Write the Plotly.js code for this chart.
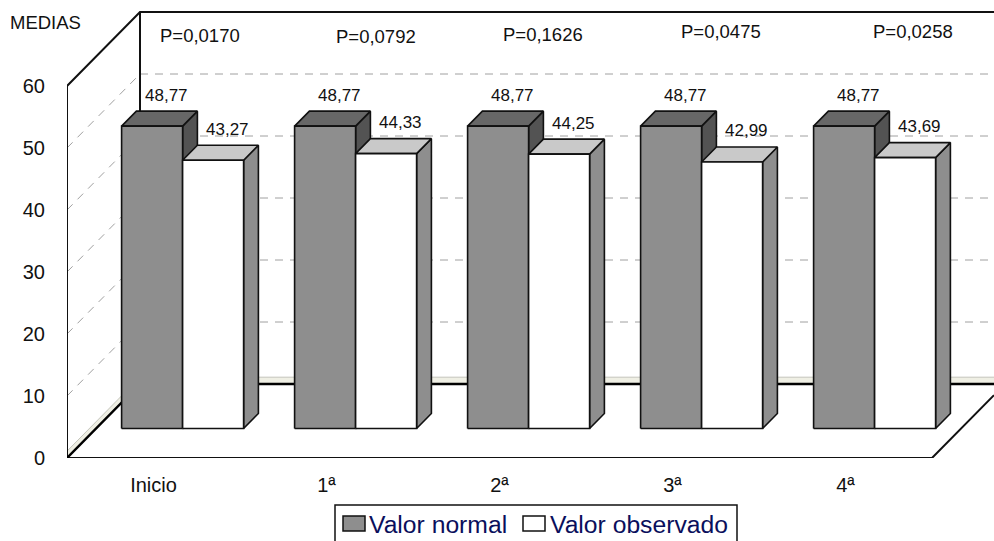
<!DOCTYPE html>
<html>
<head>
<meta charset="utf-8">
<script src="https://cdn.plot.ly/plotly-3.0.1.min.js"></script>
<style>html,body{margin:0;padding:0;background:#fff;overflow:hidden}</style>
</head>
<body>
<div id="chart" style="width:994px;height:541px"></div>
<script>
// ---- data ----
const categories = ['Inicio', '1ª', '2ª', '3ª', '4ª'];
const valorNormal = [48.77, 48.77, 48.77, 48.77, 48.77];
const valorObservado = [43.27, 44.33, 44.25, 42.99, 43.69];
const pValues = ['P=0,0170', 'P=0,0792', 'P=0,1626', 'P=0,0475', 'P=0,0258'];
const yTicks = [0, 10, 20, 30, 40, 50, 60];
const gridValues = [10, 20, 30, 40, 50];
const seriesNames = ['Valor normal', 'Valor observado'];

// ---- geometry of the oblique projection ----
const W = 994, H = 541, PL = 67, PB = 458;   // plot origin in pixels
const UX = 173, UY = 6.2, DEPTHX = 73, DEPTHY = 74;
const dx = d => d * DEPTHX / UX, dy = d => d * DEPTHY / UY;
const pt = (c, v, d) => [c + dx(d), v + dy(d)];
const pxX = p => (p - PL) / UX, pxY = p => (PB - p) / UY;
const xMax = (W - PL) / UX, yMax = PB / UY;
const BAR = 61 / UX, GAP = 25.5 / UX, D0 = 29.5 / DEPTHY, D1 = 15 / DEPTHY;
const LINE = '#111111';
const paperX = p => (p - PL) / (W - PL), paperY = p => (PB - p) / PB;

const traces = [];
function poly(points, fill, lineColor, lineWidth, dash, close) {
  const p = close === false ? points : points.concat([points[0]]);
  traces.push({
    type: 'scatter', mode: 'lines', x: p.map(q => q[0]), y: p.map(q => q[1]),
    fill: close === false ? 'none' : 'toself', fillcolor: fill || 'rgba(0,0,0,0)',
    line: { color: lineColor, width: lineWidth, dash: dash || 'solid', shape: 'linear' },
    showlegend: false, hoverinfo: 'skip', cliponaxis: false
  });
}

// walls: gridlines
const nCat = categories.length;
gridValues.forEach(v => {
  poly([pt(0, v, 0), pt(0, v, 1)], null, '#a0a0a0', 1, '8px,7px', false);
  poly([pt(0, v, 1), pt(xMax, v, 1)], null, '#a0a0a0', 1, '8px,7px', false);
});
// floor band at the foot of the walls
const bandTop = 1.1;
poly([pt(0, 0, 0), pt(0, 0, 1), pt(xMax, 0, 1), pt(xMax, bandTop, 1), pt(0, bandTop, 1), pt(0, bandTop, 0)], '#efefe4', 'rgba(0,0,0,0)', 0);
poly([pt(0, bandTop, 0), pt(0, bandTop, 1), pt(xMax, bandTop, 1)], null, '#c4c4bc', 1, 'solid', false);
// wall outlines
poly([pt(0, 60, 0), pt(0, 0, 0), pt(nCat, 0, 0), pt(nCat, 0, (xMax - nCat) * UX / DEPTHX)], null, LINE, 2, 'solid', false);
poly([pt(0, 0, 0), pt(0, 0, 1), pt(xMax, 0, 1)], null, '#000000', 2.4, 'solid', false);
poly([pt(0, 60, 0), pt(0, 60, 1), pt(xMax, 60, 1)], null, LINE, 2, 'solid', false);
poly([pt(0, 0, 1), pt(0, 60, 1)], null, LINE, 2, 'solid', false);

// bars
function bar(c, k, v, front, top, side) {
  const x0 = c + GAP + k * BAR, x1 = x0 + BAR;
  const a = pt(x0, 0, D0), b = pt(x1, 0, D0);
  const A = pt(x0, v, D0), B = pt(x1, v, D0);
  const A2 = pt(x0, v, D0 + D1), B2 = pt(x1, v, D0 + D1), b2 = pt(x1, 0, D0 + D1);
  poly([B, B2, b2, b], side, LINE, 1.6);
  poly([A, A2, B2, B], top, LINE, 1.6);
  poly([a, A, B, b], front, LINE, 1.6);
}
categories.forEach((_, c) => {
  bar(c, 0, valorNormal[c], '#8e8e8e', '#676767', '#535353');
  bar(c, 1, valorObservado[c], '#ffffff', '#c9c9c9', '#8e8e8e');
});

// legend entries (keys are drawn as wide rectangles below)
seriesNames.forEach((name, i) => traces.push({
  type: 'scatter', mode: 'markers', x: [null], y: [null], name, showlegend: true,
  legend: i ? 'legend2' : 'legend',
  marker: { symbol: 'square', size: 10, color: 'rgba(0,0,0,0)', line: { width: 0 } },
  hoverinfo: 'skip'
}));

// annotations
const annotations = [];
const label = (x, y, text, size, yshift, ref) => annotations.push({
  x, y, text, showarrow: false, xanchor: 'center', yanchor: 'middle', yshift: yshift || 0,
  xref: ref ? 'paper' : 'x', yref: ref ? 'paper' : 'y',
  font: { family: 'Liberation Sans, Arial, sans-serif', size, color: '#111' }
});
categories.forEach((_, c) => {
  const t0 = pt(c + GAP + BAR / 2 , valorNormal[c], D0 + D1);
  const t1 = pt(c + GAP + BAR * 1.5, valorObservado[c], D0 + D1);
  label(t0[0], t0[1], valorNormal[c].toFixed(2).replace('.', ','), 17, 16);
  label(t1[0], t1[1], valorObservado[c].toFixed(2).replace('.', ','), 17, 16);
});
const pLabelPx = [[199.5, 35], [375.5, 36], [543, 34], [721, 31], [913, 31]];
pValues.forEach((t, i) => label(pxX(pLabelPx[i][0]), pxY(pLabelPx[i][1]), t, 18.5));
label(paperX(45), paperY(23), 'MEDIAS', 18.5, 0, true);

const rect = (x0, y0, x1, y1, fill, width) => ({
  type: 'rect', xref: 'paper', yref: 'paper', layer: 'above',
  x0: paperX(x0), x1: paperX(x1), y0: paperY(y0), y1: paperY(y1),
  fillcolor: fill, line: { color: '#111', width }
});
const legendBase = x => ({
  orientation: 'h', x: paperX(x), xanchor: 'left', y: paperY(501), yanchor: 'top',
  bgcolor: 'rgba(0,0,0,0)', borderwidth: 0, indentation: -6,
  font: { size: 24.7, color: '#0a0f5c', family: 'Liberation Sans, Arial, sans-serif' },
  itemclick: false, itemdoubleclick: false
});

const layout = {
  width: W, height: H, paper_bgcolor: '#fff', plot_bgcolor: '#fff', showlegend: true,
  margin: { l: PL, r: 0, t: 0, b: H - PB, pad: 0, autoexpand: false },
  font: { family: 'Liberation Sans, Arial, sans-serif', color: '#111' },
  xaxis: {
    range: [0, xMax], tickmode: 'array', tickvals: categories.map((_, i) => i + 0.5), ticktext: categories,
    showgrid: false, zeroline: false, showline: false, ticks: '', ticklabelstandoff: 13,
    tickfont: { size: 20 }, fixedrange: true
  },
  yaxis: {
    range: [0, yMax], tickmode: 'array', tickvals: yTicks, ticktext: yTicks.map(String),
    showgrid: false, zeroline: false, showline: false, ticks: '', ticklabelstandoff: 21,
    tickfont: { size: 20 }, fixedrange: true
  },
  legend: legendBase(335),
  legend2: legendBase(516),
  shapes: [
    rect(335, 505, 737, 548, '#ffffff', 1.5),
    rect(343, 516, 365, 531, '#8e8e8e', 1.5),
    rect(523, 516, 545, 531, '#ffffff', 1.5)
  ],
  annotations
};
Plotly.newPlot('chart', traces, layout, { displayModeBar: false, staticPlot: true });
</script>
</body>
</html>
